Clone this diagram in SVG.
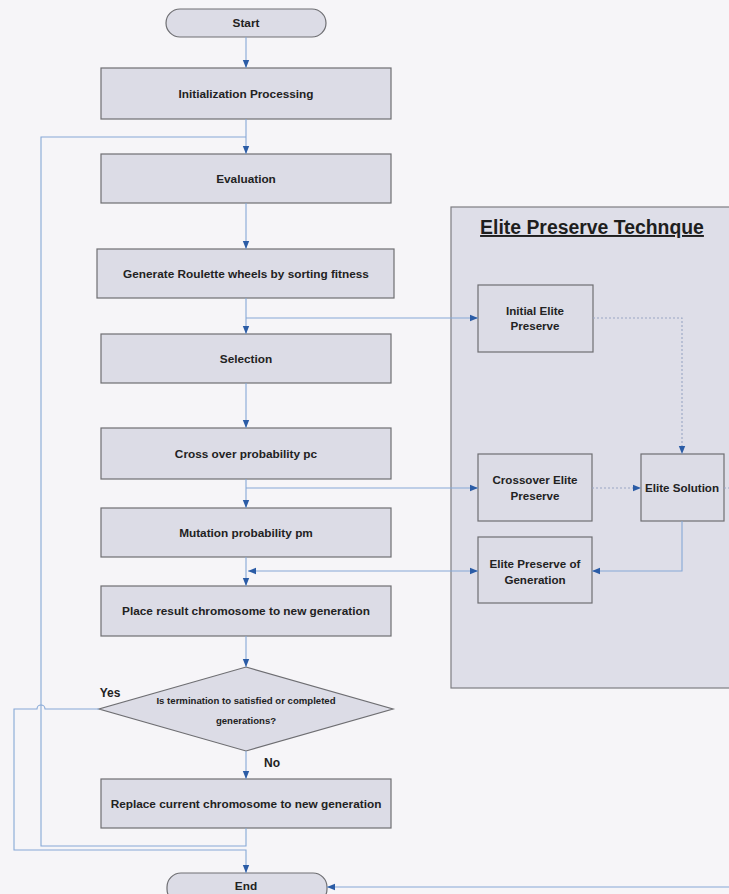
<svg xmlns="http://www.w3.org/2000/svg" width="729" height="894" viewBox="0 0 729 894">
  <defs>
    <marker id="arrow" viewBox="0 0 8 8" refX="8" refY="4" markerWidth="8" markerHeight="8" markerUnits="userSpaceOnUse" orient="auto-start-reverse">
      <path d="M0,0.8 L8,4 L0,7.2 Z" fill="#2b5ca6"/>
    </marker>
  </defs>
  <style>
    .bg { fill: #f6f5f8; }
    .box { fill: #dcdce6; stroke: #6e6e72; stroke-width: 1.2; }
    .panel { fill: #dedee8; stroke: #7d7d82; stroke-width: 1.2; }
    .lbl { font-family: "Liberation Sans", Arial, sans-serif; font-weight: bold; font-size: 11.8px; fill: #222; text-anchor: middle; }
    .small { font-size: 11.6px; }
    .tiny { font-size: 9.6px; }
    .title { font-family: "Liberation Sans", Arial, sans-serif; font-weight: bold; font-size: 19.4px; fill: #1e1e1e; text-anchor: middle; text-decoration: underline; }
    .conn { fill: none; stroke: #86a8d6; stroke-width: 1.1; }
    .dot { fill: none; stroke: #9aa6c4; stroke-width: 1.1; stroke-dasharray: 2 2; }
  </style>

  <rect class="bg" x="0" y="0" width="729" height="894"/>

  <!-- Elite preserve technique panel -->
  <g id="elite-panel">
    <rect class="panel" x="451" y="207" width="290" height="481"/>
    <text class="title" x="592" y="234">Elite Preserve Technque</text>
  </g>

  <!-- main flow nodes -->
  <g id="start">
    <rect class="box" x="166" y="9" width="160" height="28" rx="14"/>
    <text class="lbl" x="246" y="27">Start</text>
  </g>
  <g id="init">
    <rect class="box" x="101" y="68" width="290" height="51"/>
    <text class="lbl" x="246" y="98">Initialization Processing</text>
  </g>
  <g id="evaluation">
    <rect class="box" x="101" y="154" width="290" height="49"/>
    <text class="lbl" x="246" y="183">Evaluation</text>
  </g>
  <g id="roulette">
    <rect class="box" x="97" y="249" width="297" height="49"/>
    <text class="lbl" x="246" y="278">Generate Roulette wheels by sorting fitness</text>
  </g>
  <g id="selection">
    <rect class="box" x="101" y="334" width="290" height="49"/>
    <text class="lbl" x="246" y="363">Selection</text>
  </g>
  <g id="crossover">
    <rect class="box" x="101" y="428" width="290" height="51"/>
    <text class="lbl" x="246" y="458">Cross over probability pc</text>
  </g>
  <g id="mutation">
    <rect class="box" x="101" y="508" width="290" height="49"/>
    <text class="lbl" x="246" y="537">Mutation probability pm</text>
  </g>
  <g id="place">
    <rect class="box" x="101" y="586" width="290" height="50"/>
    <text class="lbl" x="246" y="615">Place result chromosome to new generation</text>
  </g>
  <g id="decision">
    <polygon class="box" points="246,667 393,709 246,751 99,709"/>
    <text class="lbl tiny" x="246" y="704">Is termination to satisfied or completed</text>
    <text class="lbl tiny" x="246" y="724">generations?</text>
  </g>
  <g id="replace">
    <rect class="box" x="101" y="779" width="290" height="49"/>
    <text class="lbl" x="246" y="808">Replace current chromosome to new generation</text>
  </g>
  <g id="end">
    <rect class="box" x="167" y="873" width="160" height="30" rx="14"/>
    <text class="lbl" x="246" y="890">End</text>
  </g>

  <!-- elite nodes -->
  <g id="initial-elite">
    <rect class="box" x="478" y="285" width="115" height="67"/>
    <text class="lbl small" x="535" y="315">Initial Elite</text>
    <text class="lbl small" x="535" y="330">Preserve</text>
  </g>
  <g id="crossover-elite">
    <rect class="box" x="478" y="454" width="114" height="67"/>
    <text class="lbl small" x="535" y="484">Crossover Elite</text>
    <text class="lbl small" x="535" y="500">Preserve</text>
  </g>
  <g id="elite-solution">
    <rect class="box" x="641" y="454" width="83" height="67"/>
    <text class="lbl small" x="682" y="492">Elite Solution</text>
  </g>
  <g id="elite-generation">
    <rect class="box" x="478" y="537" width="114" height="66"/>
    <text class="lbl small" x="535" y="568">Elite Preserve of</text>
    <text class="lbl small" x="535" y="584">Generation</text>
  </g>

  <!-- connectors -->
  <g id="connectors">
    <path class="conn" d="M246 37 V68" marker-end="url(#arrow)"/>
    <path class="conn" d="M246 119 V154" marker-end="url(#arrow)"/>
    <path class="conn" d="M246 203 V249" marker-end="url(#arrow)"/>
    <path class="conn" d="M246 298 V334" marker-end="url(#arrow)"/>
    <path class="conn" d="M246 318 H478" marker-end="url(#arrow)"/>
    <path class="conn" d="M246 383 V428" marker-end="url(#arrow)"/>
    <path class="conn" d="M246 479 V508" marker-end="url(#arrow)"/>
    <path class="conn" d="M246 488 H478" marker-end="url(#arrow)"/>
    <path class="conn" d="M246 557 V586" marker-end="url(#arrow)"/>
    <path class="conn" d="M248 571 H478" marker-start="url(#arrow)" marker-end="url(#arrow)"/>
    <path class="conn" d="M246 636 V667" marker-end="url(#arrow)"/>
    <path class="conn" d="M246 751 V779" marker-end="url(#arrow)"/>
    <!-- loop back to evaluation -->
    <path class="conn" d="M246 828 V846 H41 V137 H246"/>
    <!-- yes branch to end, hopping over the loop line -->
    <path class="conn" d="M99 709 H45 A4 4 0 0 0 37 709 H14 V850 H246 V873" marker-end="url(#arrow)"/>
    <!-- elite links -->
    <path class="dot" d="M593 318 H682 V454" marker-end="url(#arrow)"/>
    <path class="dot" d="M592 488 H641" marker-end="url(#arrow)"/>
    <path class="dot" d="M724 488 H729"/>
    <path class="conn" d="M682 521 V571 H592" marker-end="url(#arrow)"/>
    <path class="conn" d="M729 887 H327" marker-end="url(#arrow)"/>
    <text class="lbl" x="110" y="697" style="font-size:12px">Yes</text>
    <text class="lbl" x="272" y="767" style="font-size:12px">No</text>
  </g>
</svg>
